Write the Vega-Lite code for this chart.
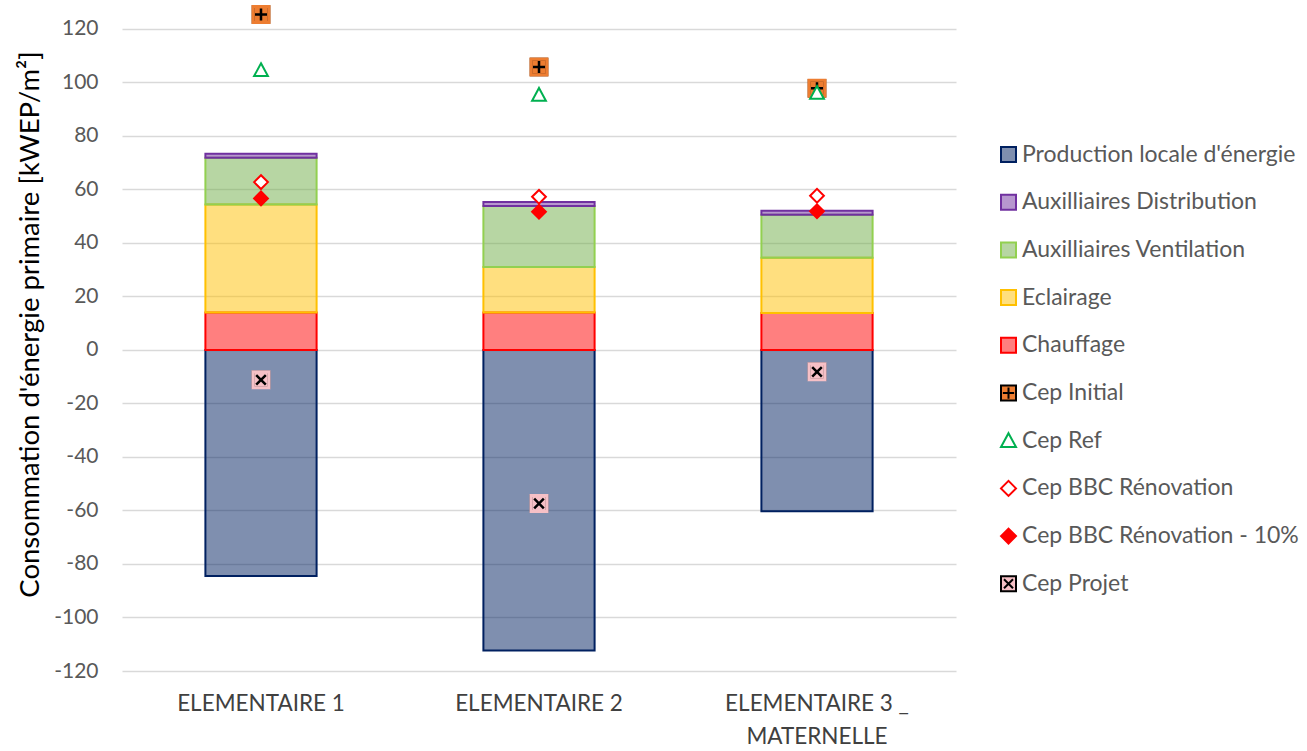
{
  "$schema": "https://vega.github.io/schema/vega-lite/v6.json",
  "width": 834,
  "height": 669,
  "autosize": {"type": "none"},
  "padding": {"left": 122, "top": 2, "right": 351, "bottom": 80},
  "background": "white",
  "config": {
    "font": "Lato",
    "view": {"stroke": null},
    "axis": {"labelFont": "Lato", "titleFont": "Lato"},
    "legend": {"labelFont": "Lato"}
  },
  "datasets": {
    "bars": [
      {"school": "ELEMENTAIRE 1", "series": "Production locale d'énergie", "k": 0, "value": -84.5},
      {"school": "ELEMENTAIRE 1", "series": "Chauffage", "k": 1, "value": 14},
      {"school": "ELEMENTAIRE 1", "series": "Eclairage", "k": 2, "value": 40.3},
      {"school": "ELEMENTAIRE 1", "series": "Auxilliaires Ventilation", "k": 3, "value": 17.5},
      {"school": "ELEMENTAIRE 1", "series": "Auxilliaires Distribution", "k": 4, "value": 1.5},
      {"school": "ELEMENTAIRE 2", "series": "Production locale d'énergie", "k": 0, "value": -112.3},
      {"school": "ELEMENTAIRE 2", "series": "Chauffage", "k": 1, "value": 14},
      {"school": "ELEMENTAIRE 2", "series": "Eclairage", "k": 2, "value": 17},
      {"school": "ELEMENTAIRE 2", "series": "Auxilliaires Ventilation", "k": 3, "value": 22.8},
      {"school": "ELEMENTAIRE 2", "series": "Auxilliaires Distribution", "k": 4, "value": 1.5},
      {"school": "ELEMENTAIRE 3 _ MATERNELLE", "series": "Production locale d'énergie", "k": 0, "value": -60.3},
      {"school": "ELEMENTAIRE 3 _ MATERNELLE", "series": "Chauffage", "k": 1, "value": 13.8},
      {"school": "ELEMENTAIRE 3 _ MATERNELLE", "series": "Eclairage", "k": 2, "value": 20.6},
      {"school": "ELEMENTAIRE 3 _ MATERNELLE", "series": "Auxilliaires Ventilation", "k": 3, "value": 16.1},
      {"school": "ELEMENTAIRE 3 _ MATERNELLE", "series": "Auxilliaires Distribution", "k": 4, "value": 1.5}
    ],
    "marks": [
      {"school": "ELEMENTAIRE 1", "series": "Cep Initial", "value": 125.3},
      {"school": "ELEMENTAIRE 1", "series": "Cep Ref", "value": 104.5},
      {"school": "ELEMENTAIRE 1", "series": "Cep BBC Rénovation", "value": 62.7},
      {"school": "ELEMENTAIRE 1", "series": "Cep BBC Rénovation - 10%", "value": 56.6},
      {"school": "ELEMENTAIRE 1", "series": "Cep Projet", "value": -11.2},
      {"school": "ELEMENTAIRE 2", "series": "Cep Initial", "value": 105.7},
      {"school": "ELEMENTAIRE 2", "series": "Cep Ref", "value": 95.3},
      {"school": "ELEMENTAIRE 2", "series": "Cep BBC Rénovation", "value": 57.2},
      {"school": "ELEMENTAIRE 2", "series": "Cep BBC Rénovation - 10%", "value": 51.6},
      {"school": "ELEMENTAIRE 2", "series": "Cep Projet", "value": -57.4},
      {"school": "ELEMENTAIRE 3 _ MATERNELLE", "series": "Cep Initial", "value": 97.8},
      {"school": "ELEMENTAIRE 3 _ MATERNELLE", "series": "Cep Ref", "value": 96},
      {"school": "ELEMENTAIRE 3 _ MATERNELLE", "series": "Cep BBC Rénovation", "value": 57.6},
      {"school": "ELEMENTAIRE 3 _ MATERNELLE", "series": "Cep BBC Rénovation - 10%", "value": 51.8},
      {"school": "ELEMENTAIRE 3 _ MATERNELLE", "series": "Cep Projet", "value": -8.2}
    ]
  },
  "encoding": {
    "x": {
      "field": "school",
      "type": "nominal",
      "sort": null,
      "scale": {"paddingInner": 0.6, "paddingOuter": 0.3},
      "axis": {
        "title": null,
        "labelAngle": 0,
        "domain": false,
        "ticks": false,
        "labelFontSize": 22.5,
        "labelColor": "#404040",
        "labelPadding": 21,
        "labelLineHeight": 33,
        "labelLimit": 0,
        "labelExpr": "datum.label == 'ELEMENTAIRE 3 _ MATERNELLE' ? ['ELEMENTAIRE 3 _', 'MATERNELLE'] : datum.label"
      }
    },
    "y": {
      "field": "value",
      "type": "quantitative",
      "scale": {"domain": [-120, 130], "nice": false, "zero": false},
      "axis": {
        "title": "Consommation d'énergie primaire [kWEP/m²]",
        "titleFontSize": 27.5,
        "titleFontWeight": "normal",
        "titleColor": "#000000",
        "titlePadding": 9,
        "titleY": 322,
        "values": [-120, -100, -80, -60, -40, -20, 0, 20, 40, 60, 80, 100, 120],
        "labelExpr": "'' + datum.value",
        "domain": false,
        "ticks": false,
        "labelFontSize": 21,
        "labelColor": "#595959",
        "labelPadding": 24,
        "gridColor": "#D9D9D9",
        "gridWidth": 1.5
      }
    }
  },
  "layer": [
    {
      "data": {"name": "bars"},
      "mark": {"type": "bar", "fillOpacity": 0.5, "strokeWidth": 2},
      "encoding": {
        "y": {"field": "value", "type": "quantitative", "stack": "zero"},
        "order": {"field": "k", "type": "quantitative"},
        "fill": {
          "field": "series",
          "type": "nominal",
          "scale": {
            "domain": ["Production locale d'énergie", "Auxilliaires Distribution", "Auxilliaires Ventilation", "Eclairage", "Chauffage", "Cep Initial", "Cep Ref", "Cep BBC Rénovation", "Cep BBC Rénovation - 10%", "Cep Projet"],
            "range": ["#001F5F", "#7030A0", "#70AD47", "#FFC000", "#FF0000", "#ED7D31", "#FFFFFF", "#FFFFFF", "#FF0000", "#F6C0C6"]
          },
          "legend": {
            "title": null,
            "orient": "none",
            "legendX": 875,
            "legendY": 141,
            "padding": 0,
            "labelFontSize": 23,
            "labelColor": "#595959",
            "labelLimit": 0,
            "rowPadding": 23.7,
            "symbolSize": 225,
            "symbolStrokeWidth": 2,
            "labelOffset": 2,
            "symbolOpacity": 1,
            "encode": {
              "symbols": {
                "update": {
                  "fillOpacity": [
                    {"test": "indexof(['Production locale d\\'énergie', 'Auxilliaires Distribution', 'Auxilliaires Ventilation', 'Eclairage', 'Chauffage'], datum.value) >= 0", "value": 0.5},
                    {"value": 1}
                  ]
                }
              }
            }
          }
        },
        "stroke": {
          "field": "series",
          "type": "nominal",
          "scale": {
            "domain": ["Production locale d'énergie", "Auxilliaires Distribution", "Auxilliaires Ventilation", "Eclairage", "Chauffage", "Cep Initial", "Cep Ref", "Cep BBC Rénovation", "Cep BBC Rénovation - 10%", "Cep Projet"],
            "range": ["#002060", "#7030A0", "#92D050", "#FFC000", "#FF0000", "#000000", "#00B050", "#FF0000", "#FF0000", "#000000"]
          }
        }
      }
    },
    {
      "data": {"name": "marks"},
      "transform": [{"filter": "datum.series == 'Cep Initial' || datum.series == 'Cep Projet'"}],
      "mark": {"type": "point", "filled": true, "opacity": 1, "strokeWidth": 2.5, "size": 256},
      "encoding": {
        "fill": {"field": "series", "type": "nominal"},
        "stroke": {"field": "series", "type": "nominal"},
        "shape": {
          "field": "series",
          "type": "nominal",
          "scale": {
            "domain": ["Production locale d'énergie", "Auxilliaires Distribution", "Auxilliaires Ventilation", "Eclairage", "Chauffage", "Cep Initial", "Cep Ref", "Cep BBC Rénovation", "Cep BBC Rénovation - 10%", "Cep Projet"],
            "range": ["square", "square", "square", "square", "square", "M-1,-1H1V1H-1Z M-0.75,0H0.75 M0,-0.75V0.75", "M0,-1L1,0.85L-1,0.85Z", "diamond", "diamond", "M-1,-1H1V1H-1Z M-0.6,-0.6L0.6,0.6 M-0.6,0.6L0.6,-0.6"]
          }
        }
      }
    },
    {
      "data": {"name": "marks"},
      "transform": [{"filter": "datum.series == 'Cep Initial'"}],
      "mark": {"type": "point", "shape": "square", "filled": false, "fill": null, "stroke": "#ED7D31", "strokeWidth": 3, "size": 256, "opacity": 1},
      "encoding": {}
    },
    {
      "data": {"name": "marks"},
      "transform": [{"filter": "datum.series == 'Cep Projet'"}],
      "mark": {"type": "point", "shape": "square", "filled": false, "fill": null, "stroke": "#F6C0C6", "strokeWidth": 3, "size": 256, "opacity": 1},
      "encoding": {}
    },
    {
      "data": {"name": "marks"},
      "transform": [{"filter": "datum.series != 'Cep Initial' && datum.series != 'Cep Projet'"}],
      "mark": {"type": "point", "filled": true, "opacity": 1, "strokeWidth": 2, "size": 190},
      "encoding": {
        "fill": {"field": "series", "type": "nominal"},
        "stroke": {"field": "series", "type": "nominal"},
        "shape": {"field": "series", "type": "nominal"}
      }
    }
  ]
}
